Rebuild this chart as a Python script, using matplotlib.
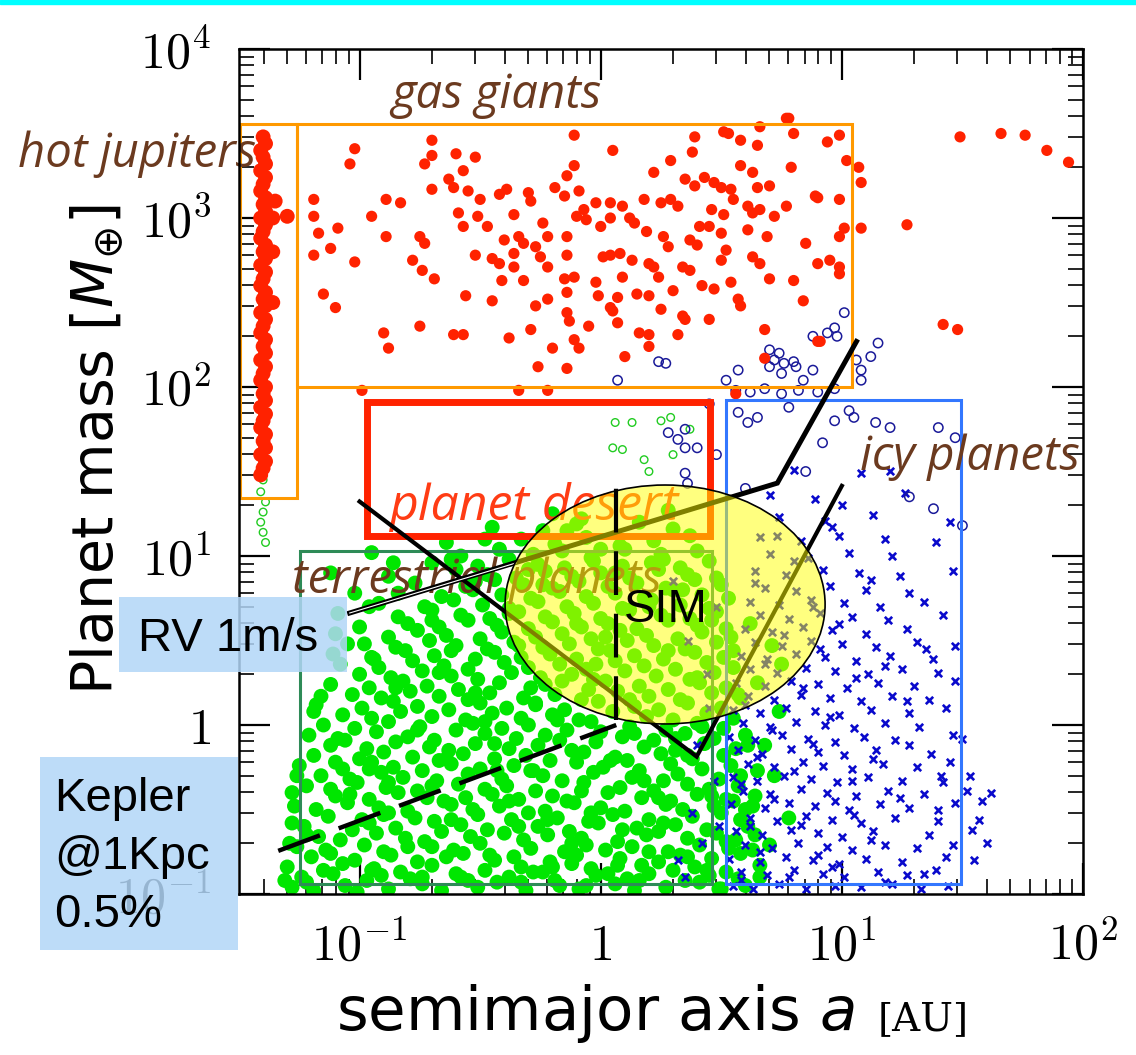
import numpy as np
import matplotlib
matplotlib.use('Agg')
import matplotlib.pyplot as plt
from matplotlib.patches import Rectangle, Ellipse
from matplotlib.transforms import Affine2D
from matplotlib.ticker import FixedLocator, FixedFormatter, LogLocator, NullFormatter

plt.rcParams['mathtext.fontset'] = 'cm'

# planet positions, as pairs (log10 a, log10 M) in units of 0.01 dex
hot_jupiters = [-140,348, -139,344, -141,340, -140,336, -139,332, -141,328, -139,324, -140,320,
                -141,316, -139,312, -140,308, -139,304, -141,300, -139,296, -140,292, -141,288,
                -139,284, -140,280, -139,276, -141,272, -139,268, -140,264, -141,260, -139,256,
                -140,252, -139,248, -141,244, -139,240, -140,236, -141,232, -139,228, -140,224,
                -139,220, -141,216, -139,212, -140,208, -141,204, -139,200, -140,196, -139,192,
                -141,188, -139,184, -140,180, -141,176, -139,172, -140,168, -139,164, -141,160,
                -139,156, -140,152, -141,148, -136,300, -130,301, -136,280, -135,310, -136,250]

gas_giants = [-102,341, -104,332, -70,346, -70,337, -73,332, -60,338, -52,336, -11,349, 5,340,
              39,348, 38,339, 29,334, 51,351, 53,350, 58,346, 66,354, 65,343, 77,359, 80,350,
              94,345, 99,349, -119,311, -119,301, -117,291, -109,294, -119,278, -112,282,
              -102,274, -95,301, -89,311, -83,309, -89,289, -75,289, -73,285, -78,275, -74,269,
              -69,264, -70,317, -63,323, -61,318, -57,328, -55,316, -50,311, -59,303, -57,295,
              -51,301, -47,295, -52,278, -45,276, -42,273, -41,263, -36,271, -36,302, -36,279,
              -32,263, -34,289, -40,287, -39,317, -42,314, -30,315, -29,310, -24,297, -22,289,
              -19,318, -14,325, -11,331, -9,316, -15,313, -7,305, -10,301, -6,299, -2,309,
              0,295, 4,309, 4,300, 9,307, 12,300, 14,297, 18,311, 22,327, 25,309, 29,311,
              32,307, 35,323, 39,319, 43,324, 47,321, 50,318, 46,305, 51,302, 54,317, 58,331,
              63,327, 65,318, 70,319, 55,311, 61,307, 63,303, 66,305, 72,301, 77,307, 89,313,
              99,311, 79,330, 102,334, 19,292, 26,289, 28,283, 37,287, 41,295, 45,295, 40,284,
              50,291, 61,293, 69,289, 85,285, 99,289, 101,294, -14,289, -14,278, -32,285,
              -27,283, -25,277, -22,271, -15,264, -14,256, -11,265, -2,262, -1,254, 1,277,
              4,278, 8,279, 9,265, 7,253, 13,275, 15,255, 20,273, 22,271, 24,265, 20,254,
              25,246, 30,257, 34,271, 37,269, 42,260, 47,258, 50,275, 54,262, 57,252, 58,248,
              52,281, 63,277, 66,273, 70,264, 80,263, 84,251, 90,273, 95,275, 99,271, 99,267,
              -115,255, -110,247, -90,232, -88,223, -75,236, -61,231, -57,231, -56,254, -45,251,
              -38,229, -29,234, -27,248, -22,252, -20,223, -14,244, -13,239, -11,228, -9,223,
              -5,236, 4,247, 5,245, 7,238, 10,218, 16,232, 20,231, 20,224, 32,231, 34,242,
              35,240, 45,240, 68,234, -26,212, -14,211, 90,227, 68,217,
              149,348, 166,350, 176,349, 185,340, 194,333, 107,330, 108,321, 108,294, 127,296,
              142,237, 148,234, 78,359, 90,312, -99,198, -34,198, -22,198, 56,196, 91,227]

terrestrial = [
    -128,-96, -119,-98, -106,-95, -101,-99, -88,-97, -74,-94, -66,-98, -51,-96, -43,-93, -31,-98,
    -17,-95, -9,-97, 6,-94, 14,-98, 27,-96, 41,-93, 49,-97, 60,-95,
    -124,-90, -111,-88, -97,-92, -91,-89, -79,-91, -60,-88, -55,-92, -38,-90, -24,-87, -19,-92,
    -2,-89, 11,-91, 20,-88, 35,-92, 45,-89, 57,-91,
    -130,-84, -115,-86, -107,-82, -94,-85, -83,-87, -70,-83, -48,-86, -33,-84, -28,-87, -12,-82,
    -4,-85, 3,-88, 17,-83, 30,-86, 39,-84, 52,-87, 66,-83,
    -120,-78, -102,-80, -87,-77, -76,-81, -64,-78, -57,-76, -44,-80, -36,-78, -21,-81, -10,-77,
    8,-79, 24,-81, 33,-77, 46,-79, 58,-76,
    -126,-72, -114,-74, -98,-71, -90,-75, -70,-72, -61,-74, -50,-70, -29,-73, -15,-75, -6,-71,
    2,-74, 13,-72, 28,-75, 41,-71, 53,-73, 63,-74,
    -117,-66, -108,-68, -93,-64, -81,-67, -73,-69, -54,-66, -40,-64, -32,-68, -22,-65, -8,-67,
    7,-69, 19,-65, 36,-67, 48,-64, 56,-68,
    -123,-60, -103,-62, -96,-58, -85,-61, -66,-63, -58,-59, -47,-62, -26,-60, -13,-63, -1,-58,
    15,-61, 24,-63, 31,-59, 44,-62, 61,-60,
    -113,-54, -99,-56, -88,-52, -77,-55, -69,-57, -51,-53, -37,-56, -30,-52, -18,-55, -5,-57,
    5,-53, 20,-56, 38,-54, 50,-52, 58,-56,
    -127,-48, -118,-50, -105,-46, -92,-49, -80,-51, -62,-47, -53,-50, -42,-48, -23,-51, -11,-46,
    0,-49, 10,-51, 27,-47, 34,-50, 47,-48, 55,-45,
    -110,-42, -96,-44, -84,-40, -72,-43, -65,-45, -45,-41, -34,-44, -20,-42, -14,-45, 3,-40,
    17,-43, 29,-45, 40,-41, 52,-44, 64,-42,
    -122,-36, -112,-38, -101,-34, -89,-37, -76,-39, -59,-35, -48,-38, -39,-36, -27,-39, -7,-34,
    8,-37, 22,-39, 36,-35, 45,-38, 57,-36,
    -116,-30, -104,-32, -91,-28, -82,-31, -68,-33, -55,-29, -41,-32, -24,-30, -16,-33, -3,-28,
    13,-31, 26,-33, 32,-29, 49,-32,
    -125,-24, -107,-26, -95,-22, -86,-25, -74,-27, -62,-23, -50,-26, -36,-24, -29,-27, -10,-22,
    1,-25, 16,-27, 29,-23, 42,-26, 54,-24, 65,-27,
    -119,-18, -100,-20, -90,-16, -78,-19, -67,-21, -57,-17, -44,-20, -31,-18, -21,-21, -7,-16,
    6,-19, 11,-21, 25,-17, 38,-20, 51,-18,
    -112,-12, -97,-14, -85,-10, -71,-13, -63,-15, -52,-11, -38,-14, -26,-12, -12,-15, -2,-10,
    18,-13, 31,-15, 43,-11, 56,-14,
    -121,-6, -109,-8, -93,-4, -80,-7, -69,-9, -48,-5, -35,-8, -23,-6, -17,-9, 0,-4,
    9,-7, 22,-9, 35,-5, 47,-8, 60,-6,
    -115,0, -102,-2, -88,2, -75,-1, -60,-3, -53,1, -41,-2, -30,0, -14,-3, -4,2,
    12,-1, 27,-3, 40,1, 51,-2,
    -107,6, -95,4, -83,8, -70,5, -56,3, -45,7, -33,4, -20,6, -9,3, 5,8, 19,5, 30,3, 44,7, 55,4,
    -118,12, -99,10, -86,14, -76,11, -63,9, -50,13, -39,10, -27,12, -15,9, -1,14, 14,11, 24,9,
    36,13, 50,10,
    -103,18, -91,16, -79,20, -67,17, -55,15, -46,19, -32,16, -19,18, -8,15, 7,20, 20,17, 33,15,
    46,19, 58,16,
    -112,24, -96,22, -82,26, -72,23, -59,21, -42,25, -29,22, -23,24, -5,21, 2,26, 16,23, 28,21,
    41,25, 52,22,
    -100,30, -87,28, -74,32, -62,29, -51,27, -37,31, -25,28, -12,30, -3,27, 10,32, 23,29, 37,27,
    47,31,
    -108,36, -92,34, -78,38, -65,35, -55,33, -40,37, -30,34, -17,36, -6,33, 6,38, 18,35, 31,33,
    44,37, 55,34,
    -111,42, -95,40, -81,44, -69,41, -52,39, -44,43, -33,40, -21,42, -10,39, 4,44, 14,41, 26,39,
    39,43, 51,40,
    -98,48, -85,46, -71,50, -60,47, -47,45, -36,49, -24,46, -13,48, -1,45, 11,50, 22,47, 35,45,
    48,49,
    -110,54, -88,52, -76,56, -64,53, -50,51, -41,55, -27,52, -16,54, -4,51, 8,56, 19,53, 32,51,
    42,55, 54,52,
    -80,60, -67,58, -55,62, -43,59, -30,57, -20,61, -8,58, 3,60, 15,57, 28,62, 40,59, 52,57,
    -109,66, -84,64, -70,68, -58,65, -46,63, -34,67, -23,64, -11,66, 0,63, 12,68, 25,65, 37,63,
    48,67,
    -92,72, -73,70, -61,74, -49,71, -38,69, -26,73, -14,70, -3,72, 9,69, 21,74, 33,71, 45,69,
    -102,78, -66,76, -53,80, -41,77, -29,75, -17,79, -6,76, 6,78, 18,75, 30,80, 42,77, 53,75,
    -77,84, -56,82, -44,86, -32,83, -20,81, -9,85, 3,82, 15,84, 27,81, 39,86, 50,83,
    -112,90, -88,88, -60,92, -47,89, -35,87, -23,91, -12,88, 0,90, 12,87, 24,92, 36,89, 48,87,
    -70,96, -51,94, -38,98, -26,95, -15,93, -3,97, 9,94, 21,96, 33,93, 45,97,
    -95,102, -58,100, -42,104, -28,101, -16,103, -4,99, 10,104, 25,101, 40,103,
    -64,108, -33,110, -19,107, -6,111, 8,106, 22,109, 37,112,
    -45,117, -24,115, -10,119, 30,116, -20,125, -8,122, 28,127,
    66,-90, 70,-71, 63,-48, 72,-30, 68,-12, 74,8, 65,25, 71,47, 78,-55, 62,60, 75,36,
    -131,-92, -129,-70, -128,-40,
    -122,-93, -95,-86, -58,-90, -20,-84, 16,-92, 44,-86, -112,-76, -80,-72, -46,-77, -12,-70,
    20,-75, 52,-69, -128,-58, -90,-53, -62,-56, -34,-60, -4,-52, 26,-58, 60,-50, -104,-41,
    -70,-36, -38,-45, -8,-39, 18,-33, 46,-42, -126,-30, -96,-26, -64,-20, -28,-27, 4,-21,
    36,-18, 58,-30, -106,-9, -76,-3, -44,-11, -18,3, 14,-5, 42,-1, -116,17, -85,22, -52,19,
    -16,26, 12,15, 40,28, -94,39, -62,44, -34,47, -2,36, 28,44, 55,44, -100,58, -70,62,
    -38,66, -10,60, 20,70, 46,62, -84,78, -52,85, -24,83, 6,90, 34,80, -62,98, -30,92, 0,104,
    26,98, -48,110, -14,115, 16,120, -122,-65, -110,-22, -119,8, -105,48, -96,70, -86,96,
    -74,-90, -33,-93, 7,-83, 36,-78, -56,-43, -22,-56, 9,-62, 61,-12, -6,-95, -43,-27, 31,-8,
    -67,31, -27,13, 2,52, 50,-97, 64,-65, 57,18, -88,-34, -48,2, 24,-43]

terrestrial_open = [6,179, 13,179, 25,180, 29,182, 5,164, 9,163, 18,157, 30,160, 37,175, 20,150,
                    -140,145, -141,138, -139,132, -140,126, -141,120, -140,114, -139,108]

icy = [55,-95, 63,-97, 74,-94, 85,-97, 97,-95, 108,-96, 121,-94, 133,-97, 144,-95,
       58,-87, 69,-89, 80,-86, 92,-88, 101,-90, 115,-87, 127,-89, 139,-86,
       53,-79, 66,-81, 77,-78, 88,-80, 99,-82, 110,-79, 125,-81, 143,-78,
       60,-71, 71,-73, 82,-70, 94,-72, 104,-74, 118,-71, 131,-73, 146,-71,
       56,-63, 67,-65, 79,-62, 90,-64, 100,-66, 113,-63, 136,-65, 154,-62,
       62,-55, 73,-57, 85,-54, 96,-56, 108,-58, 122,-55, 140,-57, 157,-56,
       54,-47, 68,-49, 78,-46, 89,-48, 103,-50, 116,-47, 128,-49, 147,-46,
       59,-39, 70,-41, 83,-38, 94,-40, 106,-42, 119,-39, 134,-41, 152,-39,
       55,-31, 65,-33, 76,-30, 87,-32, 98,-34, 111,-31, 125,-33, 141,-30,
       61,-23, 72,-25, 84,-22, 92,-24, 104,-26, 117,-23, 131,-25, 145,-22,
       57,-15, 67,-17, 79,-14, 90,-16, 101,-18, 114,-15, 137,-17,
       53,-7, 64,-9, 75,-6, 86,-8, 97,-10, 109,-7, 122,-9, 146,-6,
       59,1, 70,-1, 81,2, 93,0, 105,-2, 118,1, 132,-1,
       55,9, 66,7, 77,10, 89,8, 99,6, 112,9, 128,7, 143,10,
       61,17, 72,15, 83,18, 95,16, 108,14, 121,17, 136,15,
       56,25, 68,23, 79,26, 90,24, 102,22, 115,25, 130,23, 147,26,
       62,33, 73,31, 85,34, 97,32, 111,30, 125,33, 140,31,
       58,41, 69,39, 81,42, 93,40, 106,38, 120,41, 138,39,
       64,49, 75,47, 87,50, 100,48, 114,46, 131,49, 147,47,
       60,57, 71,55, 84,58, 96,56, 110,54, 127,57,
       66,65, 78,63, 91,66, 104,64, 119,62, 142,65,
       62,73, 74,71, 87,74, 101,72, 116,70, 134,73,
       68,81, 81,79, 95,82, 110,80, 128,78,
       64,91, 77,89, 92,92, 107,90, 124,88, 146,91,
       70,101, 86,99, 103,102, 121,100,
       66,111, 83,109, 99,112, 118,110, 139,108,
       74,123, 93,121, 113,124, 145,120,
       70,136, 89,134, 126,137, 80,151, 108,149,
       35,-90, 42,-70, 38,-52, 47,-33, 40,-12, 45,10, 32,-80, 49,-60, 44,30, 36,50, 48,70, 30,85,
       155,-80, 160,-70, 158,-45, 162,-40, 153,-30,
       58,-92, 78,-90, 96,-84, 118,-93, 66,-75, 90,-77, 112,-68, 62,-60, 83,-59, 105,-53,
       72,-44, 97,-45, 124,-43, 58,-35, 80,-27, 104,-33, 65,-19, 88,-11, 113,-20, 71,-3,
       95,5, 128,-12, 60,12, 84,22, 106,28, 68,36, 91,45, 118,35, 76,53, 99,60, 64,84, 88,70,
       112,86, 80,97, 96,117, 73,112, 134,-88, 140,-50, 127,14, 135,45, 150,-8, 142,-34,
       100,130, 120,150]

icy_open = [101,244, 97,235, 94,232, 88,230, 98,230, 70,222, 74,220, 72,216, 76,214, 80,215,
            81,212, 88,210, 75,208, 84,204, 70,212, 57,210, 52,204, 106,216, 108,210, 108,204,
            112,218, 115,226, 24,215, 27,214, 7,204,
            56,198, 62,197, 68,199, 75,196, 82,198, 90,197, 97,199,
            57,185, 61,179, 65,182, 78,188, 103,186, 105,182, 114,179, 120,176, 140,176,
            147,170, 97,180, 92,167, 28,173, 32,169, 35,164, 40,164, 35,149, 36,143, 35,175,
            45,190, 48,160, 128,135, 138,128, 150,118, 85,150, 60,140]

# region boxes: (a_min, a_max, M_min, M_max)
box_hot = (0.032, 0.055, 22, 3600)
box_gas = (0.055, 11.0, 100, 3600)
box_desert = (0.107, 2.84, 13.2, 81)
box_terr = (0.0566, 2.9, 0.115, 10.7)
box_icy = (3.31, 31.3, 0.115, 84)

# detection limits
kepler_a = [0.046, 1.16]
kepler_m = [0.18, 1.0]
sim_a = [1.16, 1.16]
sim_m = [1.07, 25.7]
vlim_a = [0.1, 2.5, 10.0]
vlim_m = [21, 0.65, 26]
rv_a = [0.091, 5.4, 11.5]
rv_m = [4.6, 27, 186]


def unpack(flat):
    arr = np.array(flat, dtype=float).reshape(-1, 2) / 100.0
    return 10 ** arr[:, 0], 10 ** arr[:, 1]


fig = plt.figure(figsize=(11.36, 10.55), dpi=100)
ax = fig.add_axes([239 / 1136, 1 - 894 / 1055, 844 / 1136, 845 / 1055])
ax.set_xscale('log')
ax.set_yscale('log')
ax.set_xlim(10 ** -1.5, 100)
ax.set_ylim(0.1, 1e4)

# points
a, m = unpack(terrestrial)
ax.scatter(a, m, s=115, color='#00e600', edgecolors='none', zorder=2)
a, m = unpack(terrestrial_open)
ax.scatter(a, m, s=30, facecolors='none', edgecolors='#22cc22', linewidths=1, zorder=2)
a, m = unpack(icy)
ax.scatter(a, m, s=28, marker='x', color='#0a0acc', linewidths=1.9, zorder=2)
a, m = unpack(icy_open)
ax.scatter(a, m, s=45, facecolors='none', edgecolors='#1a1a99', linewidths=1.1, zorder=2)
a, m = unpack(gas_giants)
ax.scatter(a, m, s=65, color='#ff2200', edgecolors='none', zorder=3)
a, m = unpack(hot_jupiters)
ax.scatter(a, m, s=115, color='#ff2200', edgecolors='none', zorder=3)

# region boxes
def add_box(box, color, lw):
    a0, a1, m0, m1 = box
    ax.add_patch(Rectangle((a0, m0), a1 - a0, m1 - m0, fill=False, edgecolor=color,
                           linewidth=lw, zorder=4))

add_box(box_hot, '#ff9900', 2.2)
add_box(box_gas, '#ff9900', 2.2)
add_box(box_terr, '#2e8b57', 2.2)
add_box(box_icy, '#3377ff', 2.2)
add_box(box_desert, '#ff2200', 5)

lab = dict(family=['Open Sans', 'DejaVu Sans'], style='italic', fontsize=34,
           color='#6b3a1f', va='baseline', ha='left', zorder=5)
ax.text(0.135, 4470, 'gas giants', **lab)
ax.text(0.00383, 2000, 'hot jupiters', clip_on=False, **lab)
ax.text(11.9, 32.4, 'icy planets', clip_on=False, **lab)
ax.text(0.0525, 6.0, 'terrestrial planets', **lab)
lab['color'] = '#ff3c14'
lab['fontsize'] = 36
ax.text(0.132, 16.3, 'planet desert', **lab)

# detection lines
ax.plot(vlim_a, vlim_m, color='black', lw=3, zorder=6, solid_joinstyle='miter')
ax.plot(rv_a, rv_m, color='black', lw=3.6, zorder=6, solid_joinstyle='miter')
ax.plot([rv_a[0], 0.446], [rv_m[0], 9.1], color='white', lw=0.8, zorder=6)

logspace = Affine2D().scale(1 / 3.5, 1 / 5).translate(1.5 / 3.5, 1 / 5) + ax.transAxes
ax.add_patch(Ellipse((0.267, 0.713), 1.327, 1.414, transform=logspace,
                     facecolor='#ffff00', alpha=0.5, edgecolor='none', zorder=7))
ax.add_patch(Ellipse((0.267, 0.713), 1.327, 1.414, transform=logspace,
                     facecolor='none', edgecolor='black', lw=1.2, zorder=7))

ax.plot(kepler_a, kepler_m, color='black', lw=3.2, ls=(0, (10, 4.5)), zorder=8)
ax.plot(sim_a, sim_m, color='black', lw=3.0, ls=(0, (10.5, 4.5)), zorder=8)
ax.text(1.25, 4.07, 'SIM', family='Liberation Sans', fontsize=34, va='baseline',
        ha='left', zorder=9)

# axes styling
ax.xaxis.set_major_locator(FixedLocator([0.1, 1, 10, 100]))
ax.xaxis.set_major_formatter(FixedFormatter(['$10^{-1}$', '$1$', '$10^{1}$', '$10^{2}$']))
ax.yaxis.set_major_locator(FixedLocator([0.1, 1, 10, 100, 1000, 10000]))
ax.yaxis.set_major_formatter(FixedFormatter(['$10^{-1}$', '$1$', '$10^{1}$', '$10^{2}$',
                                             '$10^{3}$', '$10^{4}$']))
for axis in (ax.xaxis, ax.yaxis):
    axis.set_minor_locator(LogLocator(base=10, subs=np.arange(2, 10)))
    axis.set_minor_formatter(NullFormatter())
ax.tick_params(which='both', direction='in', top=True, right=True, labelsize=36, pad=20)
ax.tick_params(which='major', length=22, width=1.6)
ax.tick_params(which='minor', length=11, width=1.2)
for sp in ax.spines.values():
    sp.set_linewidth(1.8)
    sp.set_zorder(6)

fig.text(97 / 1136, 1 - 450 / 1055, r'Planet mass [$M_{\oplus}$]', rotation=90,
         fontsize=41, ha='center', va='center', math_fontfamily='dejavusans')
fig.text(336 / 1136, 1 - 1030 / 1055, r'semimajor axis $a$', fontsize=44, ha='left',
         va='baseline', math_fontfamily='dejavusans')
fig.text(878 / 1136, 1 - 1030 / 1055, '[AU]', family='DejaVu Serif', fontsize=28,
         ha='left', va='baseline')

# overlay label boxes
fig.add_artist(Rectangle((0, 1 - 4 / 1055), 1, 4 / 1055, transform=fig.transFigure,
                         color='#00ffff', zorder=10))
fig.add_artist(Rectangle((119 / 1136, 1 - 672 / 1055), 228 / 1136, 75 / 1055,
                         transform=fig.transFigure, facecolor='#b2d6f7', alpha=0.85,
                         edgecolor='none', zorder=10))
fig.add_artist(Rectangle((40 / 1136, 1 - 950 / 1055), 198 / 1136, 193 / 1055,
                         transform=fig.transFigure, facecolor='#b2d6f7', alpha=0.85,
                         edgecolor='none', zorder=10))
box_font = dict(family='Liberation Sans', fontsize=34, ha='left', va='baseline', zorder=11)
fig.text(138 / 1136, 1 - 651 / 1055, 'RV 1m/s', **box_font)
fig.text(54 / 1136, 1 - 811 / 1055, 'Kepler', **box_font)
fig.text(54 / 1136, 1 - 869 / 1055, '@1Kpc', **box_font)
fig.text(54 / 1136, 1 - 927 / 1055, '0.5%', **box_font)

fig.savefig('out.png', dpi=100)
